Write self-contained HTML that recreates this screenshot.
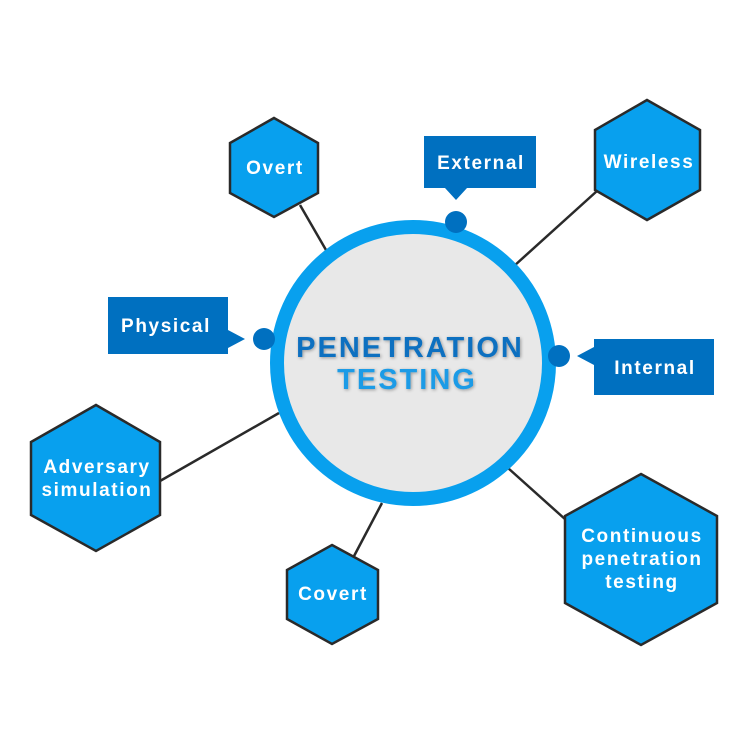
<!DOCTYPE html>
<html><head><style>body{margin:0;background:#fff}svg{display:block}text{font-family:"Liberation Sans",sans-serif;font-weight:bold}</style></head><body>
<svg width="748" height="748" viewBox="0 0 748 748" xmlns="http://www.w3.org/2000/svg">
<defs>
<filter id="sh" x="-20%" y="-20%" width="140%" height="140%"><feDropShadow dx="1" dy="1" stdDeviation="1.5" flood-color="#000" flood-opacity="0.35"/></filter>
</defs>
<g stroke="#2a2a2a" stroke-width="2.5">
<line x1="300" y1="205" x2="326" y2="250"/>
<line x1="597" y1="191" x2="514" y2="266"/>
<line x1="160" y1="481" x2="279" y2="413"/>
<line x1="353" y1="558" x2="382" y2="503"/>
<line x1="566" y1="520" x2="508" y2="468"/>
</g>
<circle cx="413" cy="363" r="136" fill="#e8e8e8" stroke="#08a0ee" stroke-width="14"/>
<text x="410" y="357" font-size="29" letter-spacing="2" fill="#0a6fc0" text-anchor="middle" filter="url(#sh)">PENETRATION</text>
<text x="407" y="389" font-size="29" letter-spacing="2" fill="#1a9be6" text-anchor="middle" filter="url(#sh)">TESTING</text>
<g fill="#08a0ee" stroke="#2a2a2a" stroke-width="2.5">
<polygon points="274,118 318,143 318,193 274,217 230,193 230,143"/>
<polygon points="647,100 700,130 700,190 647,220 595,190 595,130"/>
<polygon points="96,405 160,442 160,515 96,551 31,515 31,442"/>
<polygon points="332,545 378,570 378,619 332,644 287,619 287,570"/>
<polygon points="641,474 717,516 717,603 641,645 565,603 565,516"/>
</g>
<g fill="#0070c0">
<rect x="424" y="136" width="112" height="52"/><polygon points="445,188 467,188 456,200"/>
<circle cx="456" cy="222" r="11"/>
<rect x="108" y="297" width="120" height="57"/><polygon points="228,330 228,348 245,339"/>
<circle cx="264" cy="339" r="11"/>
<rect x="594" y="339" width="120" height="56"/><polygon points="594,347 594,365 577,356"/>
<circle cx="559" cy="356" r="11"/>
</g>
<g fill="#fff" font-size="19" letter-spacing="1.6" text-anchor="middle">
<text x="275" y="174">Overt</text>
<text x="481" y="169">External</text>
<text x="649" y="168">Wireless</text>
<text x="166" y="332">Physical</text>
<text x="655" y="374">Internal</text>
<text x="97" y="473">Adversary</text>
<text x="97" y="496">simulation</text>
<text x="333" y="600">Covert</text>
<text x="642" y="542">Continuous</text>
<text x="642" y="565">penetration</text>
<text x="642" y="588">testing</text>
</g>
</svg>
</body></html>
